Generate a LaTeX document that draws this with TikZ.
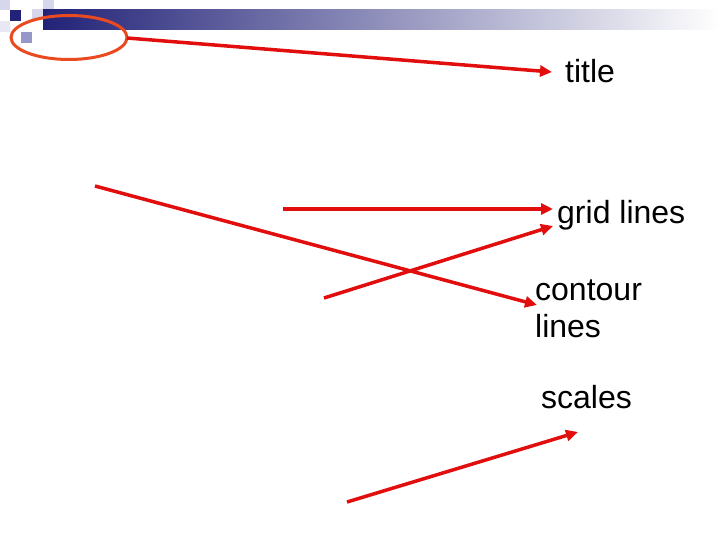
\documentclass[tikz,border=0pt]{standalone}
\usepackage{fontspec}
\setmainfont{Liberation Sans}
\usetikzlibrary{arrows.meta}
\definecolor{arrowred}{RGB}{226,14,14}
\definecolor{ringred}{RGB}{234,74,32}
\definecolor{navy}{RGB}{34,34,120}
\definecolor{barmid}{RGB}{192,192,212}
\definecolor{sqlight}{RGB}{214,214,236}
\definecolor{sqpale}{RGB}{232,232,244}
\definecolor{sqmid}{RGB}{150,150,200}
\tikzset{
  pointer/.style={draw=arrowred, line width=3.5pt, -{Triangle[length=12pt,width=11pt]}},
  ring/.style={draw=ringred, line width=3pt},
  label/.style={font=\fontsize{32}{37}\selectfont, inner sep=0pt, anchor=base west, align=left},
}
\begin{document}
\begin{tikzpicture}[x=1pt,y=-1pt]
\useasboundingbox (0,0) rectangle (720,540);
\fill[white] (0,0) rectangle (720,540);
% decorative squares
\fill[sqlight] (0,0) rectangle (10,10);
\fill[sqpale] (0,21) rectangle (10,32);
\fill[navy] (10,10) rectangle (21,21);
\fill[sqlight] (32,9) rectangle (43,20);
\fill[sqlight] (43,0) rectangle (54,10);
\fill[sqmid] (21,32) rectangle (32,43);
% gradient bar
\shade[left color=navy, middle color=barmid, right color=white] (43,10) rectangle (720,30);
% ring
\draw[ring] (69,37.5) ellipse [x radius=58, y radius=22];
% labels
\node[label] (title) at (565,83) {title};
\node[label] (grid) at (557,224) {grid lines};
\node[label] (contour) at (535,337) {contour\\lines};
\node[label] (scales) at (541,408) {scales};
% arrow ends
\coordinate (t1) at (127,38);  \coordinate (h1) at (552,72);
\coordinate (t2) at (283,209); \coordinate (h2) at (553,209);
\coordinate (t3) at (324,298); \coordinate (h3) at (553,226);
\coordinate (t4) at (95,186);  \coordinate (h4) at (537,305);
\coordinate (t5) at (347,502); \coordinate (h5) at (578,432);
\draw[pointer] (t1) -- (h1);
\draw[pointer] (t2) -- (h2);
\draw[pointer] (t3) -- (h3);
\draw[pointer] (t4) -- (h4);
\draw[pointer] (t5) -- (h5);
\end{tikzpicture}
\end{document}
